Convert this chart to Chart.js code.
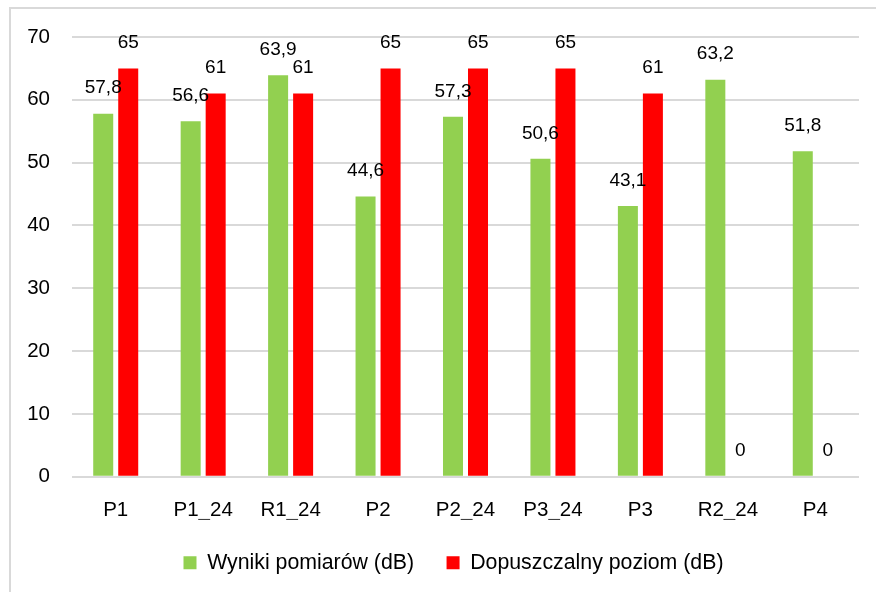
<!DOCTYPE html>
<html>
<head>
<meta charset="utf-8">
<script src="https://cdn.jsdelivr.net/npm/chart.js@4"></script>
<style>
  html, body { margin: 0; padding: 0; background: #fff; overflow: hidden; }
  #wrap { position: relative; width: 900px; height: 592px; }
</style>
</head>
<body>
<div id="wrap"><canvas id="noiseChart"></canvas></div>
<script>
'use strict';

const points = ['P1', 'P1_24', 'R1_24', 'P2', 'P2_24', 'P3_24', 'P3', 'R2_24', 'P4'];
const measured = [57.8, 56.6, 63.9, 44.6, 57.3, 50.6, 43.1, 63.2, 51.8];
const allowed = [65, 61, 61, 65, 65, 65, 61, 0, 0];
const yTicks = [0, 10, 20, 30, 40, 50, 60, 70];

const ctx = document.getElementById('noiseChart').getContext('2d');
const FONT = 'Arial, "Liberation Sans", sans-serif';

// values above the bars, polish decimal comma
const valueLabels = {
    id: 'valueLabels',
    afterDatasetsDraw(chart) {
        const c = chart.ctx;
        c.save();
        c.font = '19px ' + FONT;
        c.fillStyle = '#000';
        c.textAlign = 'center';
        c.textBaseline = 'middle';
        chart.data.datasets.forEach((ds, i) => {
            chart.getDatasetMeta(i).data.forEach((bar, j) => {
                const txt = String(ds.data[j]).replace('.', ',');
                c.fillText(txt, bar.x, bar.y - 25.5);
            });
        });
        c.restore();
    }
};

// light frame round the chart (only left and top are inside the picture)
const frame = {
    id: 'frame',
    beforeDraw(chart) {
        const c = chart.ctx;
        c.save();
        c.strokeStyle = '#d9d9d9';
        c.lineWidth = 2;
        c.strokeRect(10, 8, 950, 700);
        c.restore();
    }
};

new Chart(ctx, {
    type: 'bar',
    data: {
        labels: points,
        datasets: [{
            label: 'Wyniki pomiarów (dB)',
            data: measured,
            backgroundColor: '#92d050',
            categoryPercentage: 0.572,
            barPercentage: 0.8
        }, {
            label: 'Dopuszczalny poziom (dB)',
            data: allowed,
            backgroundColor: '#ff0000',
            categoryPercentage: 0.572,
            barPercentage: 0.8
        }]
    },
    options: {
        responsive: true,
        maintainAspectRatio: false,
        animation: false,
        layout: { padding: { left: 20, right: 13, top: 37, bottom: 8.5 } },
        plugins: {
            tooltip: { enabled: false },
            legend: {
                position: 'bottom',
                labels: {
                    color: '#000',
                    font: { family: FONT, size: 21.3 },
                    boxWidth: 13,
                    boxHeight: 13,
                    padding: 32.5
                }
            }
        },
        scales: {
            x: {
                grid: { display: false },
                border: { display: false },
                ticks: { color: '#000', font: { family: FONT, size: 20.5 }, padding: 13 },
                afterFit(scale) { scale.height = 43; }
            },
            y: {
                min: 0,
                max: 70,
                afterBuildTicks(scale) { scale.ticks = yTicks.map(v => ({ value: v })); },
                grid: { color: '#d9d9d9', lineWidth: 2, drawTicks: false },
                border: { display: false },
                ticks: { color: '#000', font: { family: FONT, size: 20.5 }, padding: 22 },
                afterFit(scale) { scale.width = 52; }
            },
            // empty right-hand space so the legend sits where it does in the original
            spacer: {
                type: 'linear',
                position: 'right',
                grid: { display: false },
                border: { display: false },
                ticks: { display: false },
                afterFit(scale) { scale.width = 28; }
            }
        }
    },
    plugins: [frame, valueLabels]
});
</script>
</body>
</html>
